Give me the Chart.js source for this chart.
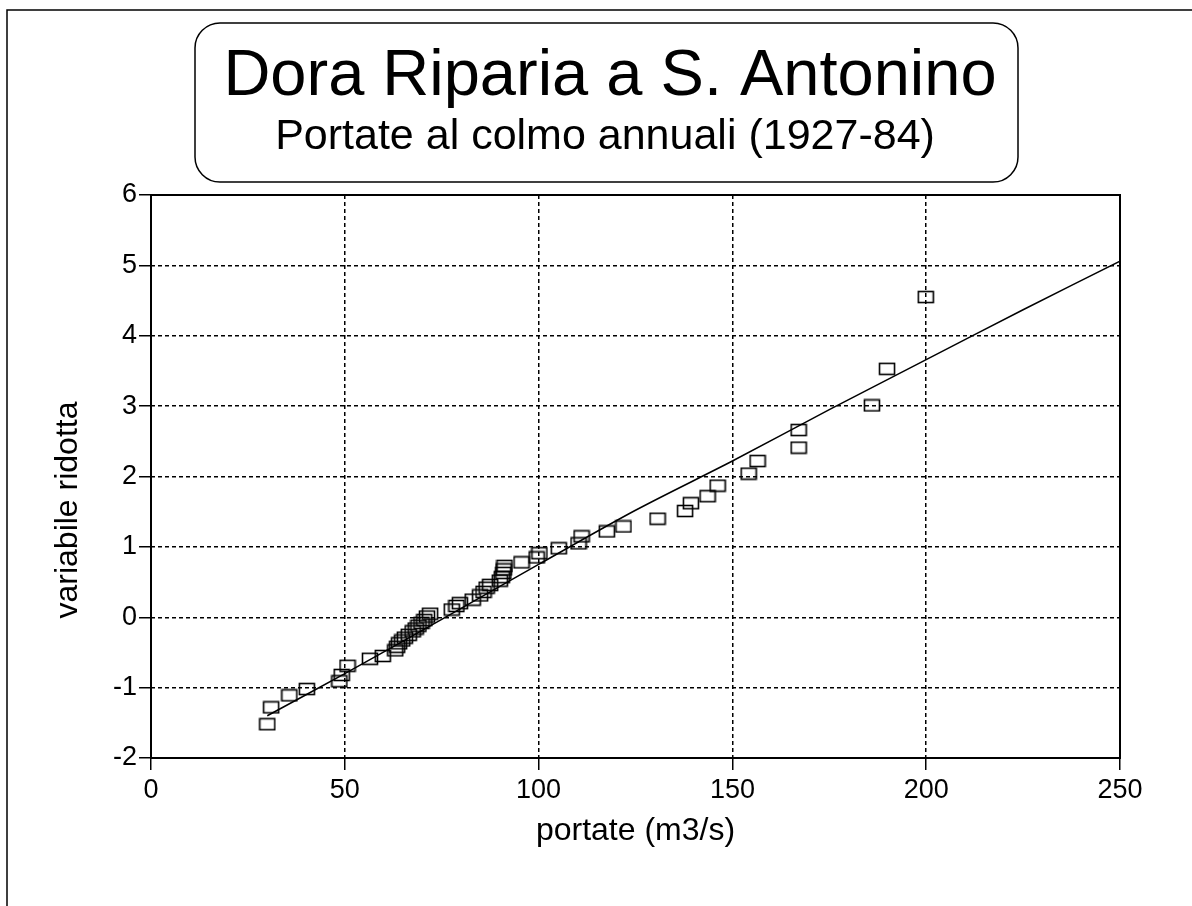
<!DOCTYPE html>
<html>
<head>
<meta charset="utf-8">
<script src="https://cdn.jsdelivr.net/npm/chart.js@4.4.0/dist/chart.umd.min.js"></script>
<style>
    html, body { margin: 0; padding: 0; background: #fff; }
    #wrap { width: 1192px; height: 906px; }
</style>
</head>
<body>
<div id="wrap"><canvas id="chart" width="1192" height="906"></canvas></div>
<script>
// -------------------------------
// DATA
// -------------------------------
const titleText = "Dora Riparia a S. Antonino";
const subtitleText = "Portate al colmo annuali (1927-84)";
const xLabel = "portate (m3/s)";
const yLabel = "variabile ridotta";

// observed annual peaks (m3/s) and reduced variate
const portate = [30.0, 31.0, 35.7, 40.2, 48.6, 49.2, 50.7, 56.5, 59.8, 63.0,
    63.5, 64.0, 64.8, 65.5, 66.5, 67.5, 68.3, 69.0, 69.8, 70.5,
    71.2, 72.0, 77.6, 78.8, 79.7, 83.0, 84.9, 85.8, 86.6, 87.5,
    90.0, 90.5, 90.9, 91.0, 91.2, 95.6, 99.5, 100.2, 105.2, 110.3,
    111.1, 117.6, 121.9, 130.7, 137.8, 139.3, 143.6, 146.2, 154.2, 156.5,
    167.1, 167.1, 186.0, 189.9, 199.9];
const ridotta = [-1.52, -1.28, -1.11, -1.02, -0.91, -0.82, -0.69, -0.59, -0.55, -0.47,
    -0.42, -0.37, -0.33, -0.29, -0.25, -0.20, -0.16, -0.12, -0.08, -0.04,
    0.01, 0.05, 0.11, 0.16, 0.20, 0.25, 0.31, 0.36, 0.42, 0.46,
    0.52, 0.57, 0.63, 0.68, 0.73, 0.78, 0.85, 0.91, 0.98, 1.05,
    1.15, 1.22, 1.29, 1.40, 1.51, 1.62, 1.72, 1.87, 2.04, 2.22,
    2.41, 2.66, 3.01, 3.53, 4.55];

// fitted curve
const curveX = [30, 50, 75, 100, 125, 150, 175, 200, 225, 250];
const curveY = [-1.40, -0.80, -0.03, 0.75, 1.52, 2.22, 2.95, 3.66, 4.37, 5.06];

const xTicks = [0, 50, 100, 150, 200, 250];
const yTicks = [-2, -1, 0, 1, 2, 3, 4, 5, 6];

// -------------------------------
// POINT SYMBOL (open rectangle)
// -------------------------------
const boxImg = document.createElement("canvas");
boxImg.width = 18;
boxImg.height = 14;
const bctx = boxImg.getContext("2d");
bctx.strokeStyle = "#000";
bctx.lineWidth = 1.6;
bctx.strokeRect(1.5, 1.5, 15, 11);

const FONT = '"Liberation Sans", Arial, sans-serif';

// -------------------------------
// DECORATIONS
// -------------------------------
const decorPlugin = {
    id: "decor",
    beforeDraw(chart) {
        const ctx = chart.ctx;
        ctx.save();
        ctx.fillStyle = "#fff";
        ctx.fillRect(0, 0, chart.width, chart.height);

        // outer frame
        ctx.strokeStyle = "#000";
        ctx.lineWidth = 1.5;
        ctx.beginPath();
        ctx.moveTo(7, chart.height);
        ctx.lineTo(7, 10);
        ctx.lineTo(chart.width, 10);
        ctx.stroke();

        // title box
        ctx.beginPath();
        ctx.roundRect(195, 23, 823, 159, 25);
        ctx.stroke();

        ctx.fillStyle = "#000";
        ctx.textAlign = "center";
        ctx.textBaseline = "alphabetic";
        ctx.font = "65px " + FONT;
        ctx.fillText(titleText, 610, 95);
        ctx.font = "43px " + FONT;
        ctx.fillText(subtitleText, 605, 149);

        // y axis title
        ctx.translate(68, 510);
        ctx.rotate(-Math.PI / 2);
        ctx.textBaseline = "middle";
        ctx.font = "32px " + FONT;
        ctx.fillText(yLabel, 0, 0);
        ctx.restore();
    },
    afterDraw(chart) {
        const ctx = chart.ctx;
        const { left, top, right, bottom } = chart.chartArea;
        ctx.save();
        ctx.strokeStyle = "#000";
        ctx.lineWidth = 2;
        ctx.strokeRect(left, top, right - left, bottom - top);
        ctx.restore();
    }
};

// -------------------------------
// CHART
// -------------------------------
const ctx = document.getElementById("chart").getContext("2d");

new Chart(ctx, {
    type: "scatter",
    data: {
        datasets: [
            {
                data: portate.map((x, i) => ({ x: x, y: ridotta[i] })),
                pointStyle: boxImg,
                pointRadius: 8,
                pointHoverRadius: 8
            },
            {
                type: "line",
                data: curveX.map((x, i) => ({ x: x, y: curveY[i] })),
                borderColor: "#000",
                borderWidth: 1.5,
                pointRadius: 0,
                tension: 0.3,
                fill: false
            }
        ]
    },
    options: {
        responsive: false,
        animation: false,
        events: [],
        layout: { padding: { left: 0, right: 72, top: 195, bottom: 0 } },
        plugins: { legend: { display: false }, tooltip: { enabled: false } },
        scales: {
            x: {
                type: "linear",
                min: 0,
                max: 250,
                afterBuildTicks: s => { s.ticks = xTicks.map(v => ({ value: v })); },
                afterFit: s => { s.height = 148; },
                grid: { color: "#000", lineWidth: 1.5, tickLength: 12, tickColor: "#000", tickWidth: 1.5, tickBorderDash: [] },
                border: { display: false, dash: [4, 3] },
                ticks: { color: "#000", padding: 4, font: { family: FONT, size: 27 } },
                title: { display: true, text: xLabel, color: "#000", font: { family: FONT, size: 32 }, padding: { top: 0, bottom: 56 } }
            },
            y: {
                type: "linear",
                min: -2,
                max: 6,
                afterBuildTicks: s => { s.ticks = yTicks.map(v => ({ value: v })); },
                afterFit: s => { s.width = 151; },
                grid: { color: "#000", lineWidth: 1.5, tickLength: 12, tickColor: "#000", tickWidth: 1.5, tickBorderDash: [] },
                border: { display: false, dash: [4, 3] },
                ticks: { color: "#000", padding: 2, font: { family: FONT, size: 27 } }
            }
        }
    },
    plugins: [decorPlugin]
});
</script>
</body>
</html>
